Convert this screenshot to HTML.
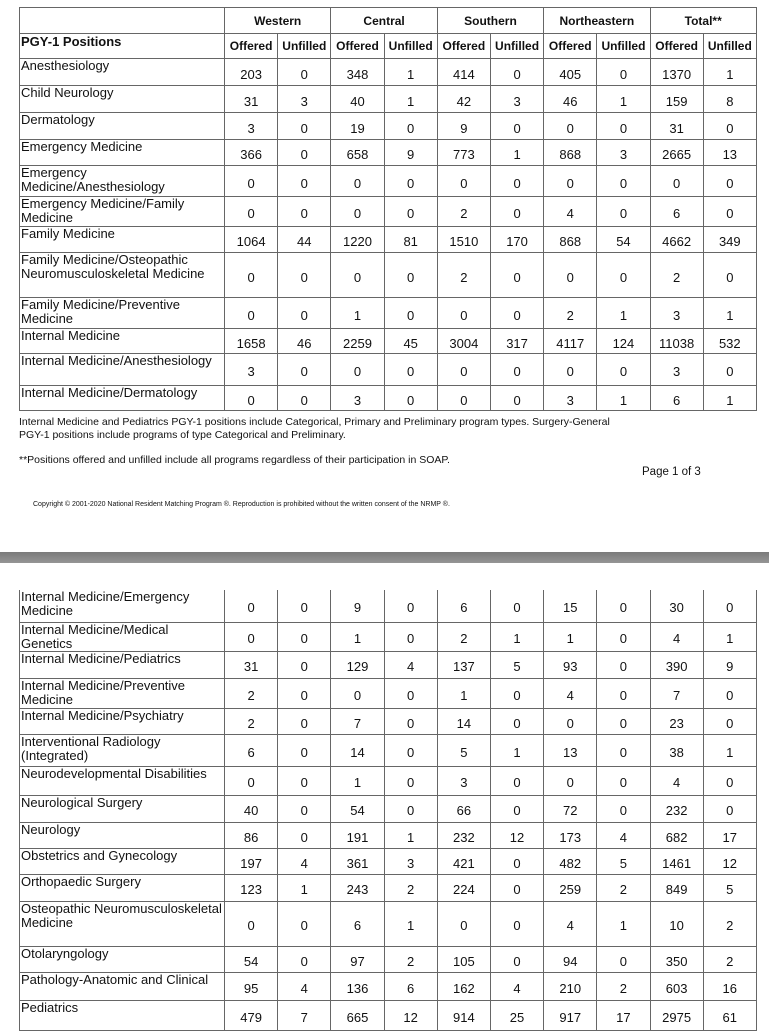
<!DOCTYPE html>
<html><head><meta charset="utf-8"><style>
body{margin:0;width:769px;height:1024px;background:#fff;position:relative;overflow:hidden;font-family:"Liberation Sans",Arial,sans-serif;color:#111}
table{position:absolute;left:19px;border-collapse:collapse;table-layout:fixed;width:737px}
td{border:1px solid #666;padding:0;font-size:13px;text-align:center;vertical-align:middle;padding-top:4px;overflow:hidden;white-space:nowrap}
td.l{text-align:left;vertical-align:top;padding:1px 0 0 1px;white-space:normal;line-height:14px;font-size:13px;padding-top:0}
.h td{font-weight:bold;font-size:12px;padding-top:0}
.h td.l{font-size:13px;padding-top:1px}
.ft{position:absolute;font-size:10.5px;left:19px}
.band{position:absolute;left:0;top:552px;width:769px;height:11px;background:linear-gradient(#7a7a7a,#959595)}
</style></head><body>
<table style="top:7px">
<colgroup><col style="width:205px"><col span="10" style="width:53.2px"></colgroup>
<tr class="h" style="height:26px"><td class="l"></td><td colspan="2">Western</td><td colspan="2">Central</td><td colspan="2">Southern</td><td colspan="2">Northeastern</td><td colspan="2">Total**</td></tr>
<tr class="h" style="height:25px"><td class="l">PGY-1 Positions</td><td>Offered</td><td>Unfilled</td><td>Offered</td><td>Unfilled</td><td>Offered</td><td>Unfilled</td><td>Offered</td><td>Unfilled</td><td>Offered</td><td>Unfilled</td></tr>
<tr style="height:27px"><td class="l">Anesthesiology</td><td>203</td><td>0</td><td>348</td><td>1</td><td>414</td><td>0</td><td>405</td><td>0</td><td>1370</td><td>1</td></tr>
<tr style="height:27px"><td class="l">Child Neurology</td><td>31</td><td>3</td><td>40</td><td>1</td><td>42</td><td>3</td><td>46</td><td>1</td><td>159</td><td>8</td></tr>
<tr style="height:27px"><td class="l">Dermatology</td><td>3</td><td>0</td><td>19</td><td>0</td><td>9</td><td>0</td><td>0</td><td>0</td><td>31</td><td>0</td></tr>
<tr style="height:26px"><td class="l">Emergency Medicine</td><td>366</td><td>0</td><td>658</td><td>9</td><td>773</td><td>1</td><td>868</td><td>3</td><td>2665</td><td>13</td></tr>
<tr style="height:31px"><td class="l">Emergency<br>Medicine/Anesthesiology</td><td>0</td><td>0</td><td>0</td><td>0</td><td>0</td><td>0</td><td>0</td><td>0</td><td>0</td><td>0</td></tr>
<tr style="height:30px"><td class="l">Emergency Medicine/Family<br>Medicine</td><td>0</td><td>0</td><td>0</td><td>0</td><td>2</td><td>0</td><td>4</td><td>0</td><td>6</td><td>0</td></tr>
<tr style="height:26px"><td class="l">Family Medicine</td><td>1064</td><td>44</td><td>1220</td><td>81</td><td>1510</td><td>170</td><td>868</td><td>54</td><td>4662</td><td>349</td></tr>
<tr style="height:45px"><td class="l">Family Medicine/Osteopathic<br>Neuromusculoskeletal Medicine</td><td>0</td><td>0</td><td>0</td><td>0</td><td>2</td><td>0</td><td>0</td><td>0</td><td>2</td><td>0</td></tr>
<tr style="height:31px"><td class="l">Family Medicine/Preventive<br>Medicine</td><td>0</td><td>0</td><td>1</td><td>0</td><td>0</td><td>0</td><td>2</td><td>1</td><td>3</td><td>1</td></tr>
<tr style="height:25px"><td class="l">Internal Medicine</td><td>1658</td><td>46</td><td>2259</td><td>45</td><td>3004</td><td>317</td><td>4117</td><td>124</td><td>11038</td><td>532</td></tr>
<tr style="height:32px"><td class="l">Internal Medicine/Anesthesiology</td><td>3</td><td>0</td><td>0</td><td>0</td><td>0</td><td>0</td><td>0</td><td>0</td><td>3</td><td>0</td></tr>
<tr style="height:25px"><td class="l">Internal Medicine/Dermatology</td><td>0</td><td>0</td><td>3</td><td>0</td><td>0</td><td>0</td><td>3</td><td>1</td><td>6</td><td>1</td></tr>
</table>
<div class="ft" style="top:416px;line-height:13px">Internal Medicine and Pediatrics PGY-1 positions include Categorical, Primary and Preliminary program types. Surgery-General<br>PGY-1 positions include programs of type Categorical and Preliminary.</div>
<div class="ft" style="top:454px">**Positions offered and unfilled include all programs regardless of their participation in SOAP.</div>
<div class="ft" style="top:466px;left:642px;font-size:11.5px">Page 1 of 3</div>
<div class="ft" style="top:501px;left:33px;font-size:7px">Copyright © 2001-2020 National Resident Matching Program ®.  Reproduction is prohibited without the written consent of the NRMP ®.</div>
<div class="band"></div>
<table style="top:590px">
<colgroup><col style="width:205px"><col span="10" style="width:53.2px"></colgroup>
<tr style="height:32px"><td class="l" style="border-top:none">Internal Medicine/Emergency<br>Medicine</td><td style="border-top:none">0</td><td style="border-top:none">0</td><td style="border-top:none">9</td><td style="border-top:none">0</td><td style="border-top:none">6</td><td style="border-top:none">0</td><td style="border-top:none">15</td><td style="border-top:none">0</td><td style="border-top:none">30</td><td style="border-top:none">0</td></tr>
<tr style="height:29px"><td class="l">Internal Medicine/Medical<br>Genetics</td><td>0</td><td>0</td><td>1</td><td>0</td><td>2</td><td>1</td><td>1</td><td>0</td><td>4</td><td>1</td></tr>
<tr style="height:27px"><td class="l">Internal Medicine/Pediatrics</td><td>31</td><td>0</td><td>129</td><td>4</td><td>137</td><td>5</td><td>93</td><td>0</td><td>390</td><td>9</td></tr>
<tr style="height:30px"><td class="l">Internal Medicine/Preventive<br>Medicine</td><td>2</td><td>0</td><td>0</td><td>0</td><td>1</td><td>0</td><td>4</td><td>0</td><td>7</td><td>0</td></tr>
<tr style="height:26px"><td class="l">Internal Medicine/Psychiatry</td><td>2</td><td>0</td><td>7</td><td>0</td><td>14</td><td>0</td><td>0</td><td>0</td><td>23</td><td>0</td></tr>
<tr style="height:32px"><td class="l">Interventional Radiology<br>(Integrated)</td><td>6</td><td>0</td><td>14</td><td>0</td><td>5</td><td>1</td><td>13</td><td>0</td><td>38</td><td>1</td></tr>
<tr style="height:29px"><td class="l">Neurodevelopmental Disabilities</td><td>0</td><td>0</td><td>1</td><td>0</td><td>3</td><td>0</td><td>0</td><td>0</td><td>4</td><td>0</td></tr>
<tr style="height:27px"><td class="l">Neurological Surgery</td><td>40</td><td>0</td><td>54</td><td>0</td><td>66</td><td>0</td><td>72</td><td>0</td><td>232</td><td>0</td></tr>
<tr style="height:26px"><td class="l">Neurology</td><td>86</td><td>0</td><td>191</td><td>1</td><td>232</td><td>12</td><td>173</td><td>4</td><td>682</td><td>17</td></tr>
<tr style="height:26px"><td class="l">Obstetrics and Gynecology</td><td>197</td><td>4</td><td>361</td><td>3</td><td>421</td><td>0</td><td>482</td><td>5</td><td>1461</td><td>12</td></tr>
<tr style="height:27px"><td class="l">Orthopaedic Surgery</td><td>123</td><td>1</td><td>243</td><td>2</td><td>224</td><td>0</td><td>259</td><td>2</td><td>849</td><td>5</td></tr>
<tr style="height:45px"><td class="l">Osteopathic Neuromusculoskeletal<br>Medicine</td><td>0</td><td>0</td><td>6</td><td>1</td><td>0</td><td>0</td><td>4</td><td>1</td><td>10</td><td>2</td></tr>
<tr style="height:26px"><td class="l">Otolaryngology</td><td>54</td><td>0</td><td>97</td><td>2</td><td>105</td><td>0</td><td>94</td><td>0</td><td>350</td><td>2</td></tr>
<tr style="height:28px"><td class="l">Pathology-Anatomic and Clinical</td><td>95</td><td>4</td><td>136</td><td>6</td><td>162</td><td>4</td><td>210</td><td>2</td><td>603</td><td>16</td></tr>
<tr style="height:30px"><td class="l">Pediatrics</td><td>479</td><td>7</td><td>665</td><td>12</td><td>914</td><td>25</td><td>917</td><td>17</td><td>2975</td><td>61</td></tr>
</table>
</body></html>
